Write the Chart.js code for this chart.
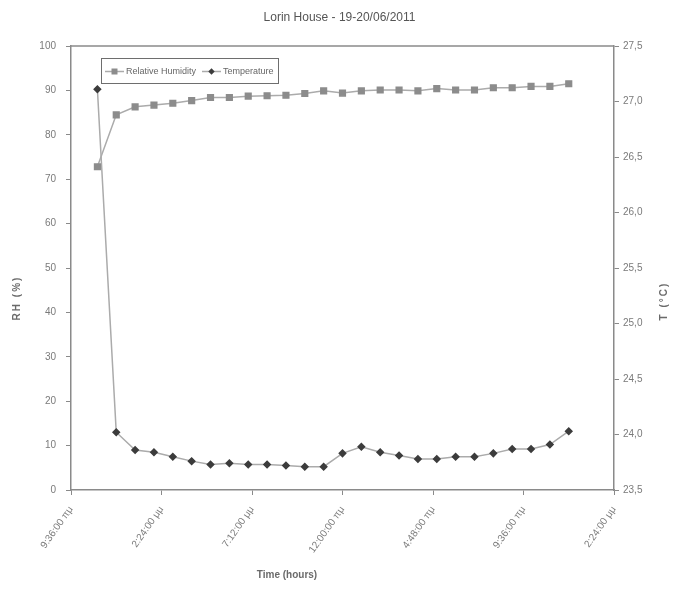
<!DOCTYPE html>
<html lang="el">
<head>
  <meta charset="UTF-8">
  <title>Lorin House - 19-20/06/2011</title>
  <script src="https://cdn.jsdelivr.net/npm/chart.js"></script>
  <style>
    body { margin: 0; background: #fff; }
    #wrap { width: 679px; height: 593px; }
  </style>
</head>
<body>
  <div id="wrap"><canvas id="chart"></canvas></div>

  <script>
    // hours from midnight of 19/06 (24 = midnight of 20/06)
    const hours = [11, 12, 13, 14, 15, 16, 17, 18, 19, 20, 21, 22, 23, 24,
                   25, 26, 27, 28, 29, 30, 31, 32, 33, 34, 35, 36];
    const humidity = [72.8, 84.5, 86.3, 86.7, 87.1, 87.7, 88.4, 88.4, 88.7, 88.8, 88.9, 89.3, 89.9,
                      89.4, 89.9, 90.1, 90.1, 89.9, 90.4, 90.1, 90.1, 90.6, 90.6, 90.9, 90.9, 91.5];
    const temperature = [27.11, 24.02, 23.86, 23.84, 23.80, 23.76, 23.73, 23.74, 23.73, 23.73, 23.72, 23.71, 23.71,
                         23.83, 23.89, 23.84, 23.81, 23.78, 23.78, 23.80, 23.80, 23.83, 23.87, 23.87, 23.91, 24.03];
    const xTickValues = [9.6, 14.4, 19.2, 24, 28.8, 33.6, 38.4];
    const xTickLabels = ['9:36:00 πμ', '2:24:00 μμ', '7:12:00 μμ', '12:00:00 πμ',
                         '4:48:00 πμ', '9:36:00 πμ', '2:24:00 μμ'];

    const axisColor = '#8a8a8a';
    const textColor = '#7a7a7a';
    Chart.defaults.font.family = '"Liberation Sans", Arial, sans-serif';
    Chart.defaults.color = textColor;

    // frame line on top and the boxed legend + axis titles
    const decorations = {
      id: 'decorations',
      afterDraw(chart) {
        const ctx = chart.ctx;
        const a = chart.chartArea;
        ctx.save();
        ctx.strokeStyle = axisColor;
        ctx.lineWidth = 1.5;
        ctx.beginPath();
        ctx.moveTo(a.left, a.top);
        ctx.lineTo(a.right, a.top);
        ctx.stroke();

        // legend box
        ctx.fillStyle = '#fff';
        ctx.strokeStyle = '#6e6e6e';
        ctx.lineWidth = 1;
        ctx.fillRect(101.5, 58.5, 177, 25);
        ctx.strokeRect(101.5, 58.5, 177, 25);
        const items = [[105, 126], [202, 223]];
        chart.data.datasets.forEach((ds, i) => {
          const [lx, tx] = items[i];
          const cy = 71.5;
          ctx.strokeStyle = ds.borderColor;
          ctx.lineWidth = ds.borderWidth;
          ctx.beginPath();
          ctx.moveTo(lx, cy);
          ctx.lineTo(lx + 19, cy);
          ctx.stroke();
          ctx.fillStyle = ds.pointBackgroundColor;
          ctx.beginPath();
          const r = ds.pointRadius;
          if (ds.pointStyle === 'rect') {
            ctx.rect(lx + 9.5 - r * 0.75, cy - r * 0.75, r * 1.5, r * 1.5);
          } else {
            ctx.moveTo(lx + 9.5, cy - r);
            ctx.lineTo(lx + 9.5 + r, cy);
            ctx.lineTo(lx + 9.5, cy + r);
            ctx.lineTo(lx + 9.5 - r, cy);
            ctx.closePath();
          }
          ctx.fill();
          ctx.fillStyle = '#666';
          ctx.font = '9px "Liberation Sans", Arial, sans-serif';
          ctx.textBaseline = 'middle';
          ctx.textAlign = 'left';
          ctx.fillText(ds.label, tx, cy);
        });

        // axis titles
        ctx.fillStyle = '#6a6a6a';
        ctx.font = 'bold 10px "Liberation Sans", Arial, sans-serif';
        ctx.textAlign = 'center';
        ctx.textBaseline = 'middle';
        ctx.fillText('Time (hours)', 287, 575);
        ctx.letterSpacing = '2px';
        ctx.save();
        ctx.translate(17, 298);
        ctx.rotate(-Math.PI / 2);
        ctx.fillText('RH (%)', 0, 0);
        ctx.restore();
        ctx.save();
        ctx.translate(664, 301);
        ctx.rotate(-Math.PI / 2);
        ctx.fillText('T (°C)', 0, 0);
        ctx.restore();
        ctx.restore();
      }
    };

    new Chart(document.getElementById('chart'), {
      type: 'line',
      data: {
        datasets: [{
          label: 'Relative Humidity',
          data: hours.map((h, i) => ({ x: h, y: humidity[i] })),
          yAxisID: 'y',
          borderColor: '#ababab',
          borderWidth: 1.5,
          pointStyle: 'rect',
          pointRadius: 4,
          pointBackgroundColor: '#8c8c8c',
          pointBorderColor: '#8c8c8c',
          tension: 0
        }, {
          label: 'Temperature',
          data: hours.map((h, i) => ({ x: h, y: temperature[i] })),
          yAxisID: 'y2',
          borderColor: '#ababab',
          borderWidth: 1.5,
          pointStyle: 'rectRot',
          pointRadius: 3.2,
          pointBackgroundColor: '#3c3c3c',
          pointBorderColor: '#3c3c3c',
          tension: 0
        }]
      },
      options: {
        responsive: true,
        maintainAspectRatio: false,
        animation: false,
        layout: { padding: 0 },
        plugins: {
          legend: { display: false },
          tooltip: { enabled: false },
          title: {
            display: true,
            text: 'Lorin House - 19-20/06/2011',
            color: '#555',
            font: { size: 12, weight: 'normal' },
            padding: { top: 10, bottom: 21.6 }
          }
        },
        scales: {
          x: {
            type: 'linear',
            min: 9.6,
            max: 38.4,
            afterBuildTicks: s => { s.ticks = xTickValues.map(v => ({ value: v })); },
            afterFit: s => { s.height = 103; },
            grid: { display: true, drawOnChartArea: false, drawTicks: true, tickLength: 5, color: axisColor },
            border: { display: true, color: axisColor, width: 1.5 },
            ticks: {
              minRotation: 55, maxRotation: 55, padding: 9,
              font: { size: 10 },
              callback: (v, i) => xTickLabels[i]
            }
          },
          y: {
            position: 'left',
            min: 0, max: 100,
            afterFit: s => { s.width = 71; },
            grid: { display: true, drawOnChartArea: false, drawTicks: true, tickLength: 5, color: axisColor },
            border: { display: true, color: axisColor, width: 1.5 },
            ticks: { stepSize: 10, padding: 10, font: { size: 10 } }
          },
          y2: {
            position: 'right',
            min: 23.5, max: 27.5,
            afterFit: s => { s.width = 65; },
            grid: { display: true, drawOnChartArea: false, drawTicks: true, tickLength: 5, color: axisColor },
            border: { display: true, color: axisColor, width: 1.5 },
            ticks: {
              stepSize: 0.5, padding: 4, font: { size: 10 },
              callback: v => v.toFixed(1).replace('.', ',')
            }
          }
        }
      },
      plugins: [decorations]
    });
  </script>
</body>
</html>
